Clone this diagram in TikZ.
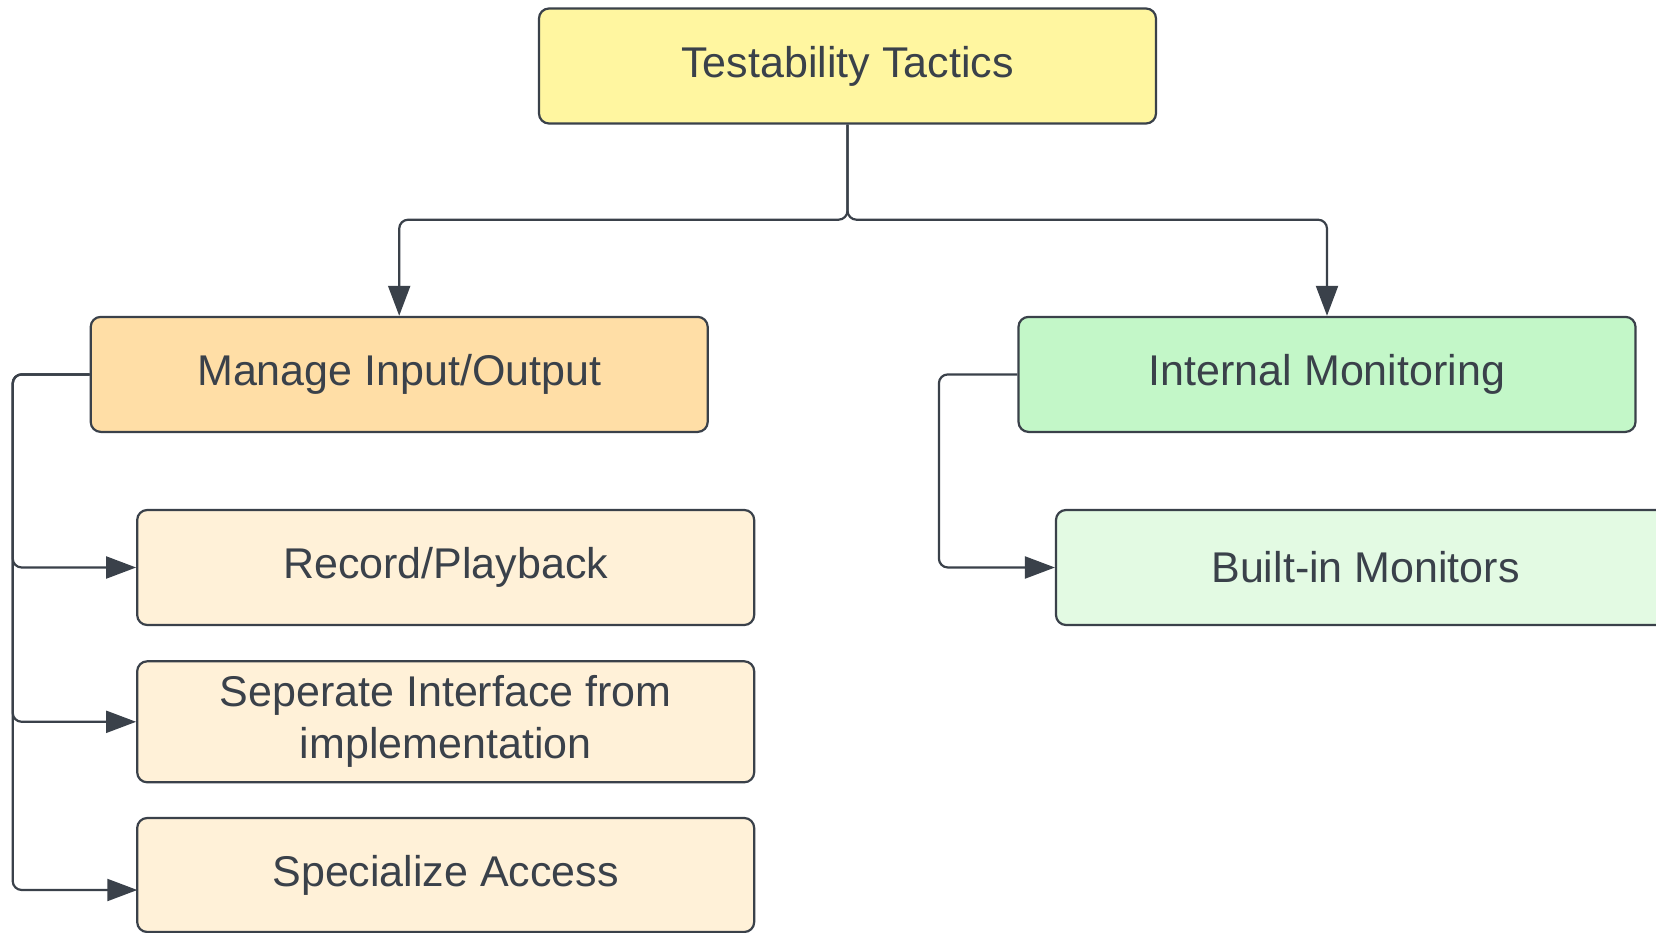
\documentclass[tikz,border=0pt]{standalone}
\usepackage{fontspec}
\setmainfont{Liberation Sans}
\usetikzlibrary{arrows.meta}
\definecolor{ink}{HTML}{3A414A}
\definecolor{topfill}{HTML}{FFF6A0}
\definecolor{orgfill}{HTML}{FFDEA6}
\definecolor{orgchild}{HTML}{FFF1D8}
\definecolor{grnfill}{HTML}{C3F7C8}
\definecolor{grnchild}{HTML}{E3FAE3}
\tikzset{
  box/.style={draw=ink, line width=2.2pt, rounded corners=10pt, inner sep=0pt,
    minimum width=617pt, minimum height=115pt, text=ink, align=center,
    font=\fontsize{43}{52}\selectfont},
  conn/.style={draw=ink, line width=2.2pt, rounded corners=9pt,
    -{Triangle[length=30pt,width=22pt]}},
}
\begin{document}
\begin{tikzpicture}[x=1pt,y=-1pt]
\clip (0,0) rectangle (1656,933);
\fill[white] (0,0) rectangle (1656,933);
\node[box, fill=topfill] (top) at (847.5,66) {Testability Tactics};
\node[box, fill=orgfill] (manage) at (399.2,374.4) {Manage Input/Output};
\node[box, fill=grnfill] (im) at (1327,374.4) {Internal Monitoring};
\node[box, fill=orgchild] (record) at (445.7,567.5) {Record/Playback};
\node[box, fill=orgchild, minimum height=121pt] (sep) at (445.7,721.8) {Seperate Interface from\\implementation};
\node[box, fill=orgchild, minimum height=114pt] (spec) at (445.7,875) {Specialize Access};
\node[box, fill=grnchild, minimum width=619pt] (built) at (1365.5,567.5) {Built-in Monitors};
\coordinate (jt) at (847.5,219.7);
\coordinate (lt) at (12.7,374.4);
\coordinate (rt) at (938.9,374.4);
\coordinate (sa) at (137.3,890);
\draw[conn] (top.south) -- (jt) -| (manage.north);
\draw[conn] (top.south) -- (jt) -| (im.north);
\draw[conn] (manage.west) -- (lt) |- (record.west);
\draw[conn] (manage.west) -- (lt) |- (sep.west);
\draw[conn] (manage.west) -- (lt) |- (sa);
\draw[conn] (im.west) -- (rt) |- (built.west);
\end{tikzpicture}
\end{document}
